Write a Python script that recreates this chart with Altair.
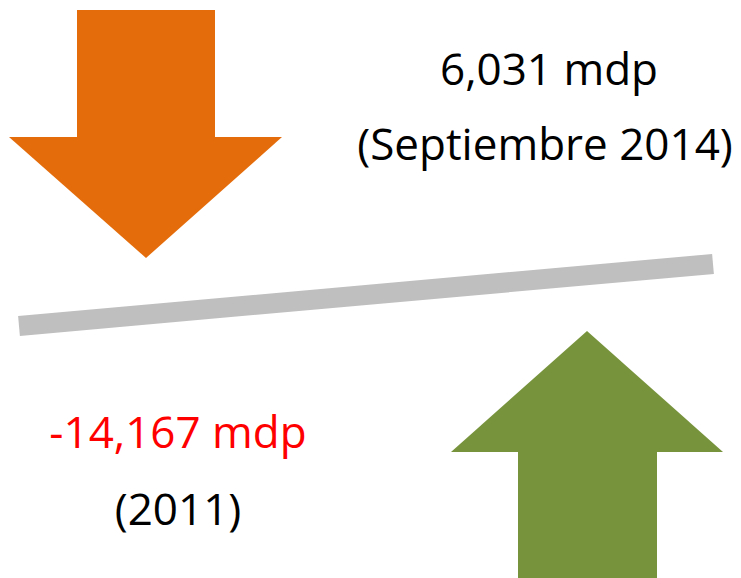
import altair as alt
import pandas as pd

# --- data (reference pixel space: x right, y down) ---
down_shaft_x = [77, 215]
down_shaft_y = [10, 138]
down_head_x = [9, 146, 282]
down_head_top = [137, 137, 137]
down_head_bot = [137, 258, 137]

up_shaft_x = [518, 657]
up_shaft_y = [451, 578]
up_head_x = [451, 587, 723]
up_head_top = [452, 331, 452]
up_head_bot = [452, 452, 452]

line_x = [19, 713]
line_y = [326, 264]

labels = ["6,031 mdp", "(Septiembre 2014)", "-14,167 mdp", "(2011)"]
label_x = [549, 545, 178, 178]
label_y = [85, 160, 448, 525]
label_color = ["#000000", "#000000", "#FF0000", "#000000"]

ORANGE = "#E46C0A"
GREEN = "#77933C"
GREY = "#BFBFBF"

xs = alt.Scale(domain=[8, 733], nice=False, zero=False)
ys = alt.Scale(domain=[578, 8], nice=False, zero=False)
X = lambda f: alt.X(f, scale=xs, axis=None)
Y = lambda f: alt.Y(f, scale=ys, axis=None)

shaft_down = alt.Chart(pd.DataFrame({
    "x": [down_shaft_x[0]], "x2": [down_shaft_x[1]],
    "y": [down_shaft_y[0]], "y2": [down_shaft_y[1]]})).mark_rect(color=ORANGE).encode(
    x=X("x:Q"), x2="x2:Q", y=Y("y:Q"), y2="y2:Q")

head_down = alt.Chart(pd.DataFrame({
    "x": down_head_x, "y": down_head_top, "y2": down_head_bot})).mark_area(
    color=ORANGE, opacity=1, interpolate="linear").encode(
    x=X("x:Q"), y=Y("y:Q"), y2="y2:Q")

shaft_up = alt.Chart(pd.DataFrame({
    "x": [up_shaft_x[0]], "x2": [up_shaft_x[1]],
    "y": [up_shaft_y[0]], "y2": [up_shaft_y[1]]})).mark_rect(color=GREEN).encode(
    x=X("x:Q"), x2="x2:Q", y=Y("y:Q"), y2="y2:Q")

head_up = alt.Chart(pd.DataFrame({
    "x": up_head_x, "y": up_head_top, "y2": up_head_bot})).mark_area(
    color=GREEN, opacity=1, interpolate="linear").encode(
    x=X("x:Q"), y=Y("y:Q"), y2="y2:Q")

bar = alt.Chart(pd.DataFrame({"x": line_x, "y": line_y})).mark_line(
    color=GREY, strokeWidth=20, strokeCap="butt").encode(
    x=X("x:Q"), y=Y("y:Q"))

text = alt.Chart(pd.DataFrame({
    "x": label_x, "y": label_y, "t": labels, "c": label_color})).mark_text(
    font="Open Sans", fontSize=44, baseline="alphabetic", align="center").encode(
    x=X("x:Q"), y=Y("y:Q"), text="t:N", color=alt.Color("c:N", scale=None))

chart = alt.layer(shaft_down, head_down, bar, shaft_up, head_up, text).properties(
    width=725, height=570, padding=0, background="white",
    autosize=alt.AutoSizeParams(type="none")
).configure_view(stroke=None)

chart.save("out.html", embed_options={"renderer": "svg", "actions": False})
